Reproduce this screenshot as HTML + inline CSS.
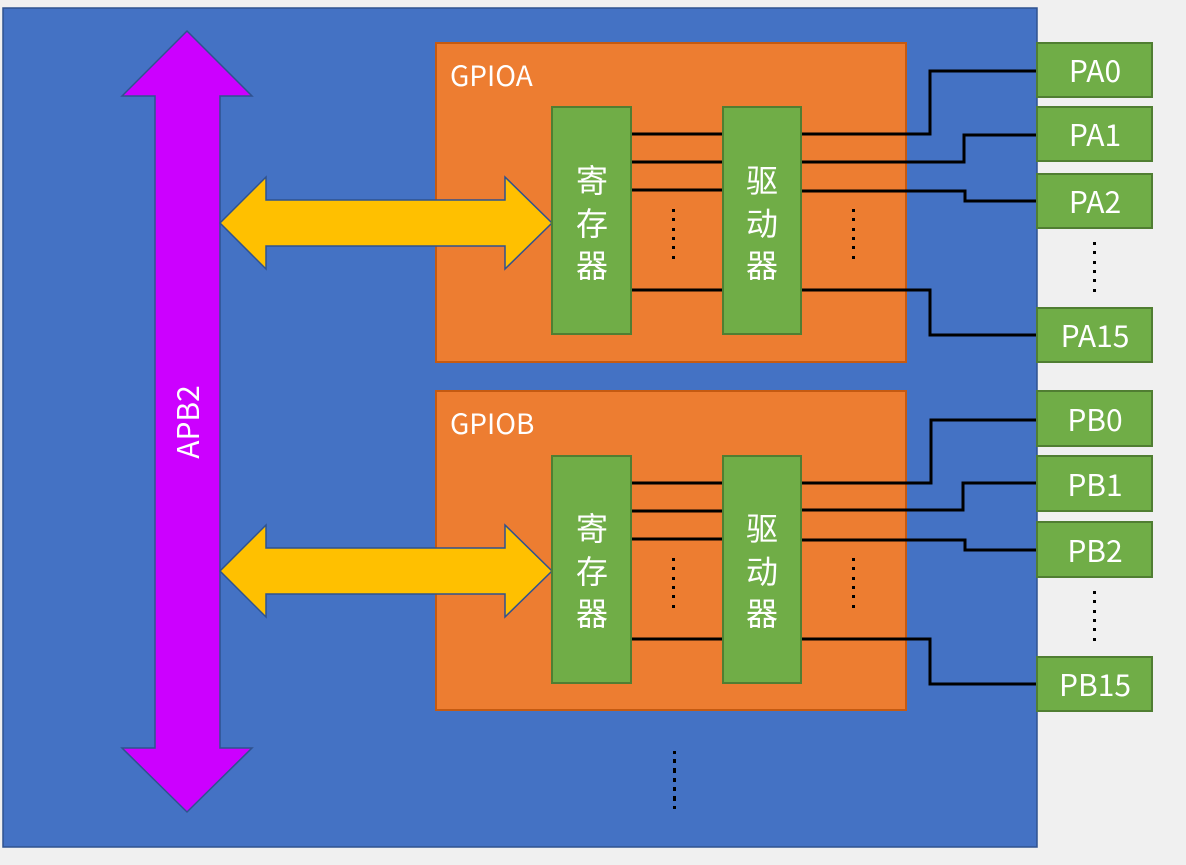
<!DOCTYPE html>
<html><head><meta charset="utf-8"><style>
html,body{margin:0;padding:0;background:#f0f0f0;}
svg{display:block;}
text{font-family:"Noto Sans CJK SC","Liberation Sans",sans-serif;fill:#fff;}
</style></head><body>
<svg width="1186" height="865" viewBox="0 0 1186 865" xmlns="http://www.w3.org/2000/svg">
<rect x="0" y="0" width="1186" height="865" fill="#f0f0f0"/>
<rect x="3" y="8" width="1034" height="839" fill="#4472c4" stroke="#2f528f" stroke-width="1.5"/>

<polygon points="187,31 252,96 220,96 220,748 252,748 187,812 122,748 155,748 155,96 122,96" fill="#cc00ff" stroke="#2f528f" stroke-width="1.5"/>
<text x="0" y="0" font-size="30" text-anchor="middle" transform="translate(199,422) rotate(-90)">APB2</text>

<rect x="436" y="43" width="470" height="319" fill="#ed7d31" stroke="#c55a11" stroke-width="2"/>
<rect x="436" y="391" width="470" height="319" fill="#ed7d31" stroke="#c55a11" stroke-width="2"/>
<text x="450" y="86" font-size="28">GPIOA</text>
<text x="450" y="434" font-size="28">GPIOB</text>

<polygon points="220,223 266,177 266,200 505,200 505,177 552,223 505,269 505,246 266,246 266,269" fill="#ffc000" stroke="#2f528f" stroke-width="1.5"/>
<polygon points="220,571 266,525 266,548 505,548 505,525 552,571 505,617 505,594 266,594 266,617" fill="#ffc000" stroke="#2f528f" stroke-width="1.5"/>

<g stroke="#000" stroke-width="3" fill="none">
<line x1="631" y1="134" x2="723" y2="134"/>
<line x1="631" y1="162" x2="723" y2="162"/>
<line x1="631" y1="190" x2="723" y2="190"/>
<line x1="631" y1="290" x2="723" y2="290"/>
<polyline points="801,134 930,134 930,71 1037,71"/>
<polyline points="801,162 964,162 964,135 1037,135"/>
<polyline points="801,191 965,191 965,201 1037,201"/>
<polyline points="801,290 930,290 930,335 1037,335"/>
<line x1="631" y1="483" x2="723" y2="483"/>
<line x1="631" y1="511" x2="723" y2="511"/>
<line x1="631" y1="539" x2="723" y2="539"/>
<line x1="631" y1="639" x2="723" y2="639"/>
<polyline points="801,483 931,483 931,420 1037,420"/>
<polyline points="801,510 963,510 963,483 1037,483"/>
<polyline points="801,540 965,540 965,550 1037,550"/>
<polyline points="801,639 930,639 930,684 1037,684"/>
</g>

<g fill="#70ad47" stroke="#507e32" stroke-width="2">
<rect x="552" y="107" width="79" height="227"/>
<rect x="723" y="107" width="78" height="227"/>
<rect x="552" y="456" width="79" height="227"/>
<rect x="723" y="456" width="78" height="227"/>
<rect x="1037" y="43" width="115" height="54"/>
<rect x="1037" y="107" width="115" height="54"/>
<rect x="1037" y="174" width="115" height="54"/>
<rect x="1037" y="308" width="115" height="54"/>
<rect x="1037" y="391" width="115" height="55"/>
<rect x="1037" y="456" width="115" height="55"/>
<rect x="1037" y="522" width="115" height="55"/>
<rect x="1037" y="657" width="115" height="54"/>
</g>

<g font-size="32" text-anchor="middle">
<text x="592" y="192">寄</text><text x="592" y="235">存</text><text x="592" y="277">器</text>
<text x="762" y="192">驱</text><text x="762" y="235">动</text><text x="762" y="277">器</text>
<text x="592" y="540">寄</text><text x="592" y="583">存</text><text x="592" y="625">器</text>
<text x="762" y="540">驱</text><text x="762" y="583">动</text><text x="762" y="625">器</text>
</g>
<g font-size="30" text-anchor="middle">
<text x="1095" y="82">PA0</text>
<text x="1095" y="146">PA1</text>
<text x="1095" y="213">PA2</text>
<text x="1095" y="347">PA15</text>
<text x="1095" y="431">PB0</text>
<text x="1095" y="496">PB1</text>
<text x="1095" y="562">PB2</text>
<text x="1095" y="696">PB15</text>
</g>

<g fill="#000">
<g id="d1"><rect x="672" y="209" width="3" height="3"/><rect x="672" y="218" width="3" height="3"/><rect x="672" y="228" width="3" height="3"/><rect x="672" y="237" width="3" height="3"/><rect x="672" y="246" width="3" height="3"/><rect x="672" y="256" width="3" height="3"/></g>
<use href="#d1" x="180" y="0"/>
<use href="#d1" x="0" y="349"/>
<use href="#d1" x="180" y="349"/>
<use href="#d1" x="421" y="33"/>
<use href="#d1" x="421" y="382"/>
<use href="#d1" x="1" y="542"/>
<use href="#d1" x="1" y="550"/>
</g>
</svg>
</body></html>
